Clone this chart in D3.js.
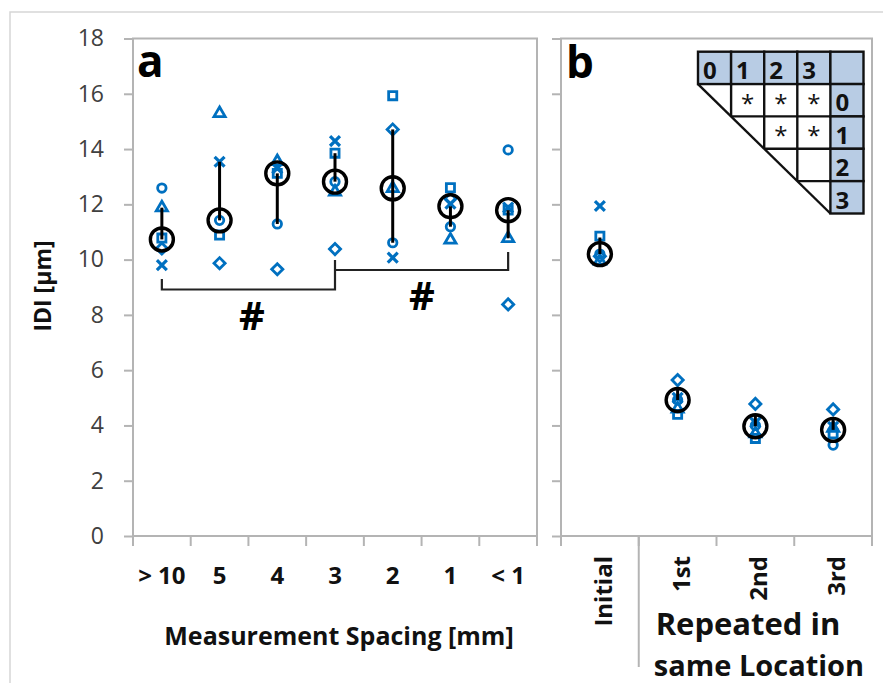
<!DOCTYPE html>
<html>
<head>
<meta charset="utf-8">
<script src="https://cdn.jsdelivr.net/npm/d3@7"></script>
<style>
  html, body { margin: 0; padding: 0; background: #fff; }
  svg { display: block; font-family: "Open Sans", "DejaVu Sans", sans-serif; }
</style>
</head>
<body>
<svg id="chart" width="883" height="683"></svg>
<script>
// ---- data -------------------------------------------------------------
const yTicks = [0, 2, 4, 6, 8, 10, 12, 14, 16, 18];

// panel a: inter-distance values by measurement spacing
const spacingCats = ["> 10", "5", "4", "3", "2", "1", "< 1"];
const aCircle   = [12.59, 11.42, 11.29, 12.82, 10.61, 11.19, 13.97];
const aTriangle = [11.88, 15.29, 13.55, 12.45, 12.58, 10.71, 10.77];
const aSquare   = [10.78, 10.89, 13.12, 13.85, 15.93, 12.60, 11.79];
const aDiamond  = [10.40,  9.87,  9.65, 10.38, 14.71, 12.20,  8.38];
const aCross    = [ 9.80, 13.54, 13.30, 14.29, 10.07, 12.02, 11.88];
const aMedian   = [10.73, 11.42, 13.12, 12.82, 12.58, 11.93, 11.79];
const aBarLow   = [10.73, 11.42, 11.29, 12.82, 10.61, 11.19, 10.77];
const aBarHigh  = [11.88, 13.54, 13.12, 13.85, 14.71, 11.93, 11.79];

// panel b: repeated measurements in the same location
const repeatCats = ["Initial", "1st", "2nd", "3rd"];
const bCircle   = [10.20, 4.92, 4.00, 3.29];
const bTriangle = [ 9.95, 4.60, 3.70, 3.90];
const bSquare   = [10.85, 4.40, 3.53, 3.70];
const bDiamond  = [10.12, 5.64, 4.78, 4.58];
const bCross    = [11.94, 5.00, 4.10, 3.95];
const bMedian   = [10.20, 4.92, 3.97, 3.84];
const bBarLow   = [10.20, 4.92, 3.97, 3.84];
const bBarHigh  = [10.80, 5.30, 4.35, 4.27];

// significance table (pairs of measurement rounds marked with *)
const roundLabels = ["0", "1", "2", "3"];
const sigPairs = [[0, 1], [0, 2], [0, 3], [1, 2], [1, 3]];

// ---- setup ------------------------------------------------------------
const svg = d3.select("#chart");
const BLUE = "#0070c0";
const FRAME = "#b4b4b4";

const y = d3.scaleLinear().domain([0, 18]).range([536, 38.5]);
const xA = d3.scaleBand().domain(spacingCats).range([133, 537]);
const xB = d3.scaleBand().domain(repeatCats).range([561, 872]);

// outer chart border
svg.append("path")
  .attr("d", "M10,700 L10,12 L900,12")
  .attr("fill", "none").attr("stroke", "#d6d6d6").attr("stroke-width", 1.5);

// ---- axes and frames ----------------------------------------------------
function frame(x) {
  const [x0, x1] = x.range();
  svg.append("rect")
    .attr("x", x0).attr("y", y(18))
    .attr("width", x1 - x0).attr("height", y(0) - y(18))
    .attr("fill", "none").attr("stroke", FRAME).attr("stroke-width", 2);
  // category boundary ticks below the frame
  const bounds = x.domain().map(d => x(d)).concat([x1]);
  svg.append("g").selectAll("line").data(bounds).join("line")
    .attr("x1", d => d).attr("x2", d => d)
    .attr("y1", y(0)).attr("y2", y(0) + 10)
    .attr("stroke", FRAME).attr("stroke-width", 2);
}
frame(xA);
frame(xB);

// y axis with labels for panel a
const yAxisA = svg.append("g")
  .attr("transform", `translate(${xA.range()[0]},0)`)
  .call(d3.axisLeft(y).tickValues(yTicks).tickSize(9).tickPadding(20));
yAxisA.select(".domain").remove();
yAxisA.selectAll(".tick line").attr("stroke", FRAME).attr("stroke-width", 2);
yAxisA.selectAll(".tick text")
  .attr("fill", "#404040")
  .style("font-size", "23px")
  .style("font-family", "'Open Sans', sans-serif");

// y ticks without labels for panel b
const yAxisB = svg.append("g")
  .attr("transform", `translate(${xB.range()[0]},0)`)
  .call(d3.axisLeft(y).tickValues(yTicks).tickSize(9).tickFormat(""));
yAxisB.select(".domain").remove();
yAxisB.selectAll(".tick line").attr("stroke", FRAME).attr("stroke-width", 2);

// divider between "Initial" and the repeated group
svg.append("line")
  .attr("x1", xB("1st")).attr("x2", xB("1st"))
  .attr("y1", y(0)).attr("y2", 667)
  .attr("stroke", FRAME).attr("stroke-width", 2);

// category labels, panel a
svg.append("g").selectAll("text").data(spacingCats).join("text")
  .attr("x", d => xA(d) + xA.bandwidth() / 2)
  .attr("y", 584)
  .attr("text-anchor", "middle")
  .style("font-size", "24px").style("font-weight", "bold")
  .attr("fill", "#111")
  .text(d => d);

// category labels, panel b (rotated)
svg.append("g").selectAll("text").data(repeatCats).join("text")
  .attr("transform", d => `translate(${xB(d) + xB.bandwidth() / 2 + 12},556) rotate(-90)`)
  .attr("text-anchor", "end")
  .style("font-size", "24px").style("font-weight", "bold")
  .attr("fill", "#111")
  .text(d => d);

// axis titles
svg.append("text")
  .attr("transform", "translate(51,286) rotate(-90)")
  .attr("text-anchor", "middle")
  .style("font-size", "23px").style("font-weight", "bold").attr("fill", "#111")
  .text("IDI [µm]");

svg.append("text")
  .attr("x", 339).attr("y", 645)
  .attr("text-anchor", "middle")
  .style("font-size", "25px").style("font-weight", "bold").attr("fill", "#111")
  .text("Measurement Spacing [mm]");

svg.append("text")
  .attr("x", 748).attr("y", 635)
  .attr("text-anchor", "middle")
  .style("font-size", "31px").style("font-weight", "bold").attr("fill", "#111")
  .text("Repeated in");
svg.append("text")
  .attr("x", 759).attr("y", 676)
  .attr("text-anchor", "middle")
  .style("font-size", "29px").style("font-weight", "bold").attr("fill", "#111")
  .text("same Location");

// panel letters
svg.append("text").attr("x", 137).attr("y", 77)
  .style("font-size", "44px").style("font-weight", "bold").attr("fill", "#000").text("a");
svg.append("text").attr("x", 566).attr("y", 78)
  .style("font-size", "44px").style("font-weight", "bold").attr("fill", "#000").text("b");

// ---- markers --------------------------------------------------------------
const shapes = {
  circle:   d3.symbol().type(d3.symbolCircle).size(56)(),
  triangle: d3.symbol().type(d3.symbolTriangle).size(54)(),
  square:   d3.symbol().type(d3.symbolSquare).size(66)(),
  diamond:  d3.symbol().type(d3.symbolSquare).size(62)(),
  cross:    d3.symbol().type(d3.symbolTimes || d3.symbolX || d3.symbolCross).size(66)()
};

function drawPanel(x, cats, series, median, low, high) {
  const cx = d => x(d) + x.bandwidth() / 2;
  const g = svg.append("g");
  series.forEach(([shape, vals]) => {
    g.append("g").selectAll("path").data(cats).join("path")
      .attr("d", shapes[shape])
      .attr("transform", (d, i) =>
        `translate(${cx(d)},${y(vals[i])})` + (shape === "diamond" ? " rotate(45)" : ""))
      .attr("fill", "none")
      .attr("stroke", BLUE)
      .attr("stroke-width", shape === "cross" ? 3.2 : 2.8);
  });
  // range bars
  g.append("g").selectAll("line").data(cats).join("line")
    .attr("x1", d => cx(d)).attr("x2", d => cx(d))
    .attr("y1", (d, i) => y(low[i])).attr("y2", (d, i) => y(high[i]))
    .attr("stroke", "#000").attr("stroke-width", 3);
  // medians
  g.append("g").selectAll("circle").data(cats).join("circle")
    .attr("cx", d => cx(d)).attr("cy", (d, i) => y(median[i]))
    .attr("r", 11.5)
    .attr("fill", "none").attr("stroke", "#000").attr("stroke-width", 3.4);
}

drawPanel(xA, spacingCats,
  [["diamond", aDiamond], ["triangle", aTriangle], ["circle", aCircle],
   ["cross", aCross], ["square", aSquare]],
  aMedian, aBarLow, aBarHigh);

drawPanel(xB, repeatCats,
  [["diamond", bDiamond], ["triangle", bTriangle], ["circle", bCircle],
   ["cross", bCross], ["square", bSquare]],
  bMedian, bBarLow, bBarHigh);

// ---- significance brackets (panel a) ------------------------------------
const mid = d => xA(d) + xA.bandwidth() / 2;
const bracket = d3.line();
svg.append("path")
  .attr("d", bracket([[mid("> 10"), 279], [mid("> 10"), 289.5], [mid("3"), 289.5], [mid("3"), 260]]))
  .attr("fill", "none").attr("stroke", "#222").attr("stroke-width", 2.2);
svg.append("path")
  .attr("d", bracket([[mid("3"), 270], [mid("< 1"), 270], [mid("< 1"), 252]]))
  .attr("fill", "none").attr("stroke", "#222").attr("stroke-width", 2.2);
svg.append("text").attr("x", 252).attr("y", 330).attr("text-anchor", "middle")
  .style("font-size", "40px").style("font-weight", "bold").attr("fill", "#000").text("#");
svg.append("text").attr("x", 422).attr("y", 310).attr("text-anchor", "middle")
  .style("font-size", "40px").style("font-weight", "bold").attr("fill", "#000").text("#");

// ---- significance table (panel b) ---------------------------------------
const colX = d3.scaleBand().domain(d3.range(5)).range([698, 863.5]);
const rowY = d3.scaleBand().domain(d3.range(5)).range([51.7, 213.5]);
const cw = colX.bandwidth(), rh = rowY.bandwidth();
const tbl = svg.append("g");
const FILL = "#b8cce4";

// header row and right column cells
const headerCells = d3.range(5).map(c => ({ c, r: 0, label: c < 4 ? roundLabels[c] : "" }));
const sideCells = d3.range(4).map(r => ({ c: 4, r: r + 1, label: roundLabels[r] }));
tbl.selectAll("rect.h").data(headerCells.concat(sideCells)).join("rect")
  .attr("x", d => colX(d.c)).attr("y", d => rowY(d.r))
  .attr("width", cw).attr("height", rh)
  .attr("fill", FILL).attr("stroke", "#111").attr("stroke-width", 2.4);
tbl.selectAll("text.h").data(headerCells.concat(sideCells)).join("text")
  .attr("x", d => colX(d.c) + 5).attr("y", d => rowY(d.r) + rh - 5)
  .style("font-size", "24px").style("font-weight", "bold").attr("fill", "#111")
  .text(d => d.label);

// inner grid above the diagonal
const gridLines = [];
for (let k = 1; k < 4; k++) {
  // vertical line at column k, from header bottom down to the diagonal
  gridLines.push([[colX(k), rowY(1)], [colX(k), rowY(k) + rh]]);
  // horizontal line at row k+1 top, from diagonal to the right column
  gridLines.push([[colX(k), rowY(k) + rh], [colX(4), rowY(k) + rh]]);
}
gridLines.push([[colX(0), rowY(1)], [colX(4), rowY(4) + rh]]); // diagonal
tbl.selectAll("path.g").data(gridLines).join("path")
  .attr("d", d => d3.line()(d))
  .attr("fill", "none").attr("stroke", "#111").attr("stroke-width", 2.4);

tbl.selectAll("text.s").data(sigPairs).join("text")
  .attr("x", d => colX(d[1]) + cw / 2)
  .attr("y", d => rowY(d[0] + 1) + 28)
  .attr("text-anchor", "middle")
  .style("font-size", "24px").attr("fill", "#111")
  .text("*");
</script>
</body>
</html>
